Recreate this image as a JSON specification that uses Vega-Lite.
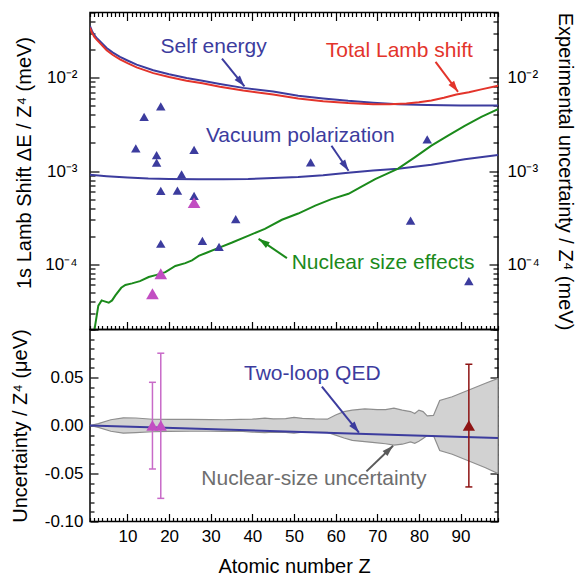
{
  "$schema": "https://vega.github.io/schema/vega-lite/v6.json",
  "padding": {"left": 9, "top": 2.5, "right": 2, "bottom": 2},
  "spacing": 0,
  "bounds": "flush",
  "config": {
    "view": {"stroke": "#000", "strokeWidth": 1.5},
    "font": "Liberation Sans",
    "axis": {
      "labelFont": "Liberation Sans", "labelFontSize": 17, "labelColor": "#000",
      "titleFont": "Liberation Sans", "titleFontSize": 20, "titleFontWeight": "normal", "titleColor": "#000",
      "tickColor": "#000", "tickWidth": 1.2, "grid": false, "domain": false, "labelOverlap": false
    },
    "text": {"font": "Liberation Sans", "fontSize": 21}
  },
  "datasets": {
    "selfEnergy": [
      {"Z": 1, "v": 0.0356}, {"Z": 1.5, "v": 0.0315}, {"Z": 2, "v": 0.0287}, {"Z": 2.6, "v": 0.0267},
      {"Z": 3.5, "v": 0.0243}, {"Z": 5, "v": 0.0208}, {"Z": 6.5, "v": 0.0186}, {"Z": 8.2, "v": 0.0167},
      {"Z": 10, "v": 0.0153}, {"Z": 12.2, "v": 0.0138}, {"Z": 16.2, "v": 0.012}, {"Z": 20, "v": 0.0109},
      {"Z": 24.2, "v": 0.00995}, {"Z": 28, "v": 0.0093}, {"Z": 32.2, "v": 0.00858}, {"Z": 37.8, "v": 0.00778},
      {"Z": 45, "v": 0.0071}, {"Z": 51, "v": 0.0064}, {"Z": 57, "v": 0.006}, {"Z": 63, "v": 0.00565},
      {"Z": 69, "v": 0.0054}, {"Z": 75, "v": 0.0052}, {"Z": 82, "v": 0.0051}, {"Z": 90, "v": 0.00505},
      {"Z": 99, "v": 0.00505}
    ],
    "totalLamb": [
      {"Z": 1, "v": 0.0345}, {"Z": 1.5, "v": 0.0302}, {"Z": 2, "v": 0.0276}, {"Z": 2.6, "v": 0.0256},
      {"Z": 3.5, "v": 0.0232}, {"Z": 5, "v": 0.0197}, {"Z": 6.5, "v": 0.0175}, {"Z": 8.2, "v": 0.0157},
      {"Z": 10, "v": 0.0143}, {"Z": 12.2, "v": 0.0129}, {"Z": 16.2, "v": 0.0112}, {"Z": 20, "v": 0.0102},
      {"Z": 24.2, "v": 0.0093}, {"Z": 28, "v": 0.0087}, {"Z": 32.2, "v": 0.008}, {"Z": 37.8, "v": 0.00728},
      {"Z": 45, "v": 0.0066}, {"Z": 51, "v": 0.006}, {"Z": 57, "v": 0.0056}, {"Z": 63, "v": 0.00535},
      {"Z": 69, "v": 0.0052}, {"Z": 73, "v": 0.0052}, {"Z": 77, "v": 0.00528}, {"Z": 80, "v": 0.00545},
      {"Z": 83, "v": 0.0057}, {"Z": 86, "v": 0.0061}, {"Z": 89, "v": 0.0066}, {"Z": 92, "v": 0.007},
      {"Z": 95, "v": 0.0075}, {"Z": 99, "v": 0.0082}
    ],
    "vacuumPol": [
      {"Z": 1, "v": 0.00091}, {"Z": 5, "v": 0.00088}, {"Z": 10, "v": 0.00085}, {"Z": 15, "v": 0.00083},
      {"Z": 20, "v": 0.00082}, {"Z": 27, "v": 0.000815}, {"Z": 33, "v": 0.000815}, {"Z": 39, "v": 0.00082},
      {"Z": 45, "v": 0.00084}, {"Z": 51, "v": 0.00086}, {"Z": 57, "v": 0.0009}, {"Z": 63, "v": 0.00096},
      {"Z": 69, "v": 0.00101}, {"Z": 75, "v": 0.00106}, {"Z": 83, "v": 0.00117}, {"Z": 91, "v": 0.00134},
      {"Z": 99, "v": 0.00148}
    ],
    "nuclearSize": [
      {"Z": 2, "v": 0.000019}, {"Z": 3, "v": 0.000036}, {"Z": 3.8, "v": 0.000041}, {"Z": 4.5, "v": 0.00004},
      {"Z": 5.5, "v": 0.0000387}, {"Z": 6.3, "v": 0.000041}, {"Z": 7.1, "v": 0.0000464}, {"Z": 8.5, "v": 0.000056},
      {"Z": 9.5, "v": 0.00006}, {"Z": 11.1, "v": 0.0000624}, {"Z": 13, "v": 0.000066}, {"Z": 15.1, "v": 0.000073},
      {"Z": 17, "v": 0.000077}, {"Z": 19.1, "v": 0.0000825}, {"Z": 21.5, "v": 0.000096}, {"Z": 23.9, "v": 0.000103},
      {"Z": 25.5, "v": 0.00011}, {"Z": 27.1, "v": 0.000123}, {"Z": 29, "v": 0.000133}, {"Z": 31.9, "v": 0.00015},
      {"Z": 35, "v": 0.00017}, {"Z": 39.1, "v": 0.000203}, {"Z": 43, "v": 0.00024}, {"Z": 47.1, "v": 0.0003},
      {"Z": 51, "v": 0.00035}, {"Z": 55.1, "v": 0.000426}, {"Z": 59, "v": 0.0005}, {"Z": 63.1, "v": 0.00057},
      {"Z": 66, "v": 0.00067}, {"Z": 69.5, "v": 0.00082}, {"Z": 72, "v": 0.00092}, {"Z": 75, "v": 0.00106},
      {"Z": 79, "v": 0.0014}, {"Z": 83, "v": 0.00187}, {"Z": 87, "v": 0.0024}, {"Z": 91, "v": 0.00305},
      {"Z": 95, "v": 0.0038}, {"Z": 99, "v": 0.0046}
    ],
    "experiment": [
      {"Z": 12, "v": 0.00175, "set": "A"}, {"Z": 14, "v": 0.00381, "set": "A"}, {"Z": 17, "v": 0.00148, "set": "A"},
      {"Z": 17, "v": 0.00123, "set": "A"}, {"Z": 18, "v": 0.00492, "set": "A"}, {"Z": 18, "v": 0.000611, "set": "A"},
      {"Z": 18, "v": 0.000166, "set": "A"}, {"Z": 22, "v": 0.000616, "set": "A"}, {"Z": 23, "v": 0.000922, "set": "A"},
      {"Z": 26, "v": 0.00168, "set": "A"}, {"Z": 26, "v": 0.000541, "set": "A"}, {"Z": 28, "v": 0.000178, "set": "A"},
      {"Z": 32, "v": 0.000154, "set": "A"}, {"Z": 36, "v": 0.000305, "set": "A"}, {"Z": 54, "v": 0.00124, "set": "A"},
      {"Z": 78, "v": 0.000294, "set": "A"}, {"Z": 82, "v": 0.00218, "set": "A"}, {"Z": 92, "v": 0.000066, "set": "A"},
      {"Z": 16, "v": 0.0000483, "set": "B"}, {"Z": 18, "v": 0.0000791, "set": "B"}, {"Z": 26, "v": 0.000458, "set": "B"}
    ],
    "labelsTop": [
      {"label": "Self energy", "Z": 30.7, "v": 0.0186},
      {"label": "Total Lamb shift", "Z": 75.3, "v": 0.0167},
      {"label": "Vacuum polarization", "Z": 51.5, "v": 0.002056},
      {"label": "Nuclear size effects", "Z": 71.4, "v": 0.0000895}
    ],
    "arrowsTop": [
      {"name": "se", "Z": 32.7, "v": 0.016, "Z2": 38.1, "v2": 0.00808},
      {"name": "total", "Z": 84.0, "v": 0.01475, "Z2": 89.4, "v2": 0.00705},
      {"name": "vp", "Z": 59.0, "v": 0.001867, "Z2": 63.1, "v2": 0.001007},
      {"name": "ns", "Z": 48.3, "v": 0.0001165, "Z2": 41.5, "v2": 0.0001875}
    ],
    "nuclearBand": [
      {"Z": 1, "lo": 0, "hi": 0}, {"Z": 3, "lo": -0.002, "hi": 0.002}, {"Z": 6, "lo": -0.006, "hi": 0.006},
      {"Z": 9, "lo": -0.008, "hi": 0.008}, {"Z": 12, "lo": -0.0075, "hi": 0.0078}, {"Z": 16, "lo": -0.0065, "hi": 0.0065},
      {"Z": 20, "lo": -0.0062, "hi": 0.0063}, {"Z": 25, "lo": -0.006, "hi": 0.0063}, {"Z": 30, "lo": -0.006, "hi": 0.0062},
      {"Z": 33, "lo": -0.0062, "hi": 0.006}, {"Z": 37, "lo": -0.006, "hi": 0.0064}, {"Z": 40, "lo": -0.0068, "hi": 0.0066},
      {"Z": 43, "lo": -0.0075, "hi": 0.0076}, {"Z": 45, "lo": -0.0068, "hi": 0.007}, {"Z": 48, "lo": -0.0072, "hi": 0.0072},
      {"Z": 50, "lo": -0.008, "hi": 0.0085}, {"Z": 52, "lo": -0.007, "hi": 0.0075}, {"Z": 55, "lo": -0.0072, "hi": 0.0068},
      {"Z": 58, "lo": -0.0072, "hi": 0.0066}, {"Z": 60, "lo": -0.01, "hi": 0.011}, {"Z": 62, "lo": -0.013, "hi": 0.0145},
      {"Z": 64, "lo": -0.0155, "hi": 0.016}, {"Z": 67, "lo": -0.0168, "hi": 0.0173}, {"Z": 70, "lo": -0.018, "hi": 0.0165},
      {"Z": 72, "lo": -0.019, "hi": 0.0165}, {"Z": 74, "lo": -0.0205, "hi": 0.018}, {"Z": 76, "lo": -0.0195, "hi": 0.016},
      {"Z": 78, "lo": -0.017, "hi": 0.0145}, {"Z": 79, "lo": -0.0185, "hi": 0.0125}, {"Z": 80, "lo": -0.0165, "hi": 0.016},
      {"Z": 81, "lo": -0.0135, "hi": 0.0145}, {"Z": 82, "lo": -0.0105, "hi": 0.01}, {"Z": 83.5, "lo": -0.0105, "hi": 0.0105},
      {"Z": 85, "lo": -0.026, "hi": 0.026}, {"Z": 88, "lo": -0.03, "hi": 0.03}, {"Z": 92, "lo": -0.037, "hi": 0.037},
      {"Z": 96, "lo": -0.044, "hi": 0.044}, {"Z": 99, "lo": -0.05, "hi": 0.049}
    ],
    "twoLoop": [
      {"Z": 1, "v": 0}, {"Z": 25, "v": -0.0032}, {"Z": 50, "v": -0.0065}, {"Z": 75, "v": -0.0098}, {"Z": 99, "v": -0.0131}
    ],
    "measured": [
      {"Z": 16, "v": 0, "lo": -0.0453, "hi": 0.045, "set": "B"},
      {"Z": 18, "v": 0, "lo": -0.0759, "hi": 0.0753, "set": "B"},
      {"Z": 92, "v": 0, "lo": -0.064, "hi": 0.0638, "set": "C"}
    ],
    "labelsBottom": [
      {"label": "Two-loop QED", "Z": 54.4, "v": 0.0475},
      {"label": "Nuclear-size uncertainty", "Z": 54.8, "v": -0.0616}
    ],
    "arrowsBottom": [
      {"name": "qed", "Z": 56.7, "v": 0.0405, "Z2": 65.6, "v2": -0.0073},
      {"name": "nsu", "Z": 67.4, "v": -0.0478, "Z2": 73.8, "v2": -0.0211}
    ]
  },
  "vconcat": [
    {
      "width": 408,
      "height": 317,
      "resolve": {"axis": {"x": "independent", "y": "independent"}, "scale": {"color": "independent", "size": "independent"}},
      "layer": [
        {
          "data": {"name": "selfEnergy"},
          "mark": {"type": "line", "color": "#3c3c9e", "strokeWidth": 2, "clip": true},
          "encoding": {
            "x": {"field": "Z", "type": "quantitative", "scale": {"domain": [1, 99], "nice": false, "zero": false},
              "axis": {"orient": "bottom", "title": null, "labels": false,
                "values": [1,2,3,4,5,6,7,8,9,10,11,12,13,14,15,16,17,18,19,20,21,22,23,24,25,26,27,28,29,30,31,32,33,34,35,36,37,38,39,40,41,42,43,44,45,46,47,48,49,50,51,52,53,54,55,56,57,58,59,60,61,62,63,64,65,66,67,68,69,70,71,72,73,74,75,76,77,78,79,80,81,82,83,84,85,86,87,88,89,90,91,92,93,94,95,96,97,98,99],
                "tickSize": {"condition": {"test": "datum.value % 10 === 0", "value": -8}, "value": -4}}},
            "y": {"field": "v", "type": "quantitative", "scale": {"type": "log", "domain": [0.00002, 0.05], "nice": false},
              "axis": {"orient": "left", "title": "1s Lamb Shift  ΔE / Z⁴ (meV)", "titlePadding": 10, "titleY": 150,
                "values": [0.00002,0.00003,0.00004,0.00005,0.00006,0.00007,0.00008,0.00009,0.0001,0.0002,0.0003,0.0004,0.0005,0.0006,0.0007,0.0008,0.0009,0.001,0.002,0.003,0.004,0.005,0.006,0.007,0.008,0.009,0.01,0.02,0.03,0.04,0.05],
                "labelExpr": "datum.value == 0.01 ? '10⁻²' : datum.value == 0.001 ? '10⁻³' : datum.value == 0.0001 ? '10⁻⁴' : ''",
                "labelPadding": 22,
                "tickSize": {"condition": {"test": "datum.value == 0.01 || datum.value == 0.001 || datum.value == 0.0001", "value": -9}, "value": -5}}}
          }
        },
        {
          "data": {"name": "totalLamb"},
          "mark": {"type": "line", "color": "#e3342b", "strokeWidth": 2, "clip": true},
          "encoding": {
            "x": {"field": "Z", "type": "quantitative", "scale": {"domain": [1, 99], "nice": false, "zero": false},
              "axis": {"orient": "top", "title": null, "labels": false,
                "values": [1,2,3,4,5,6,7,8,9,10,11,12,13,14,15,16,17,18,19,20,21,22,23,24,25,26,27,28,29,30,31,32,33,34,35,36,37,38,39,40,41,42,43,44,45,46,47,48,49,50,51,52,53,54,55,56,57,58,59,60,61,62,63,64,65,66,67,68,69,70,71,72,73,74,75,76,77,78,79,80,81,82,83,84,85,86,87,88,89,90,91,92,93,94,95,96,97,98,99],
                "tickSize": {"condition": {"test": "datum.value % 10 === 0", "value": -8}, "value": -4}}},
            "y": {"field": "v", "type": "quantitative", "scale": {"type": "log", "domain": [0.00002, 0.05], "nice": false},
              "axis": {"orient": "right", "title": "Experimental uncertainty / Z⁴ (meV)", "titlePadding": 15,
                "values": [0.00002,0.00003,0.00004,0.00005,0.00006,0.00007,0.00008,0.00009,0.0001,0.0002,0.0003,0.0004,0.0005,0.0006,0.0007,0.0008,0.0009,0.001,0.002,0.003,0.004,0.005,0.006,0.007,0.008,0.009,0.01,0.02,0.03,0.04,0.05],
                "labelExpr": "datum.value == 0.01 ? '10⁻²' : datum.value == 0.001 ? '10⁻³' : datum.value == 0.0001 ? '10⁻⁴' : ''",
                "labelPadding": 18,
                "tickSize": {"condition": {"test": "datum.value == 0.01 || datum.value == 0.001 || datum.value == 0.0001", "value": -9}, "value": -5}}}
          }
        },
        {
          "data": {"name": "vacuumPol"},
          "mark": {"type": "line", "color": "#3c3c9e", "strokeWidth": 2, "clip": true},
          "encoding": {
            "x": {"field": "Z", "type": "quantitative", "axis": null},
            "y": {"field": "v", "type": "quantitative", "axis": null}
          }
        },
        {
          "data": {"name": "nuclearSize"},
          "mark": {"type": "line", "color": "#1b8a1b", "strokeWidth": 2, "clip": true},
          "encoding": {
            "x": {"field": "Z", "type": "quantitative", "axis": null},
            "y": {"field": "v", "type": "quantitative", "axis": null}
          }
        },
        {
          "data": {"name": "experiment"},
          "mark": {"type": "point", "shape": "triangle-up", "filled": true, "opacity": 1},
          "encoding": {
            "x": {"field": "Z", "type": "quantitative", "axis": null},
            "y": {"field": "v", "type": "quantitative", "axis": null},
            "color": {"field": "set", "type": "nominal", "scale": {"domain": ["A", "B"], "range": ["#3c3c9e", "#c24ec2"]}, "legend": null},
            "size": {"field": "set", "type": "nominal", "scale": {"domain": ["A", "B"], "range": [90, 160]}, "legend": null}
          }
        },
        {
          "data": {"name": "labelsTop"},
          "mark": {"type": "text", "align": "center", "baseline": "alphabetic"},
          "encoding": {
            "x": {"field": "Z", "type": "quantitative", "axis": null},
            "y": {"field": "v", "type": "quantitative", "axis": null},
            "text": {"field": "label"},
            "color": {"field": "label", "type": "nominal", "scale": {"domain": ["Self energy", "Total Lamb shift", "Vacuum polarization", "Nuclear size effects"], "range": ["#3c3c9e", "#e3342b", "#3c3c9e", "#1b8a1b"]}, "legend": null}
          }
        },
        {
          "data": {"name": "arrowsTop"},
          "mark": {"type": "rule", "strokeWidth": 2},
          "encoding": {
            "x": {"field": "Z", "type": "quantitative", "axis": null},
            "y": {"field": "v", "type": "quantitative", "axis": null},
            "x2": {"field": "Z2"},
            "y2": {"field": "v2"},
            "color": {"field": "name", "type": "nominal", "scale": {"domain": ["se", "total", "vp", "ns"], "range": ["#3c3c9e", "#e3342b", "#3c3c9e", "#1b8a1b"]}, "legend": null}
          }
        },
        {
          "data": {"name": "arrowsTop"},
          "transform": [{"filter": "datum.name == 'se'"}],
          "mark": {"type": "point", "shape": "M0,0L-0.5,1.6L0.5,1.6Z", "size": 196, "angle": 140, "filled": true, "opacity": 1, "color": "#3c3c9e"},
          "encoding": {"x": {"field": "Z2", "type": "quantitative", "axis": null}, "y": {"field": "v2", "type": "quantitative", "axis": null}}
        },
        {
          "data": {"name": "arrowsTop"},
          "transform": [{"filter": "datum.name == 'total'"}],
          "mark": {"type": "point", "shape": "M0,0L-0.5,1.6L0.5,1.6Z", "size": 196, "angle": 143, "filled": true, "opacity": 1, "color": "#e3342b"},
          "encoding": {"x": {"field": "Z2", "type": "quantitative", "axis": null}, "y": {"field": "v2", "type": "quantitative", "axis": null}}
        },
        {
          "data": {"name": "arrowsTop"},
          "transform": [{"filter": "datum.name == 'vp'"}],
          "mark": {"type": "point", "shape": "M0,0L-0.5,1.6L0.5,1.6Z", "size": 196, "angle": 146, "filled": true, "opacity": 1, "color": "#3c3c9e"},
          "encoding": {"x": {"field": "Z2", "type": "quantitative", "axis": null}, "y": {"field": "v2", "type": "quantitative", "axis": null}}
        },
        {
          "data": {"name": "arrowsTop"},
          "transform": [{"filter": "datum.name == 'ns'"}],
          "mark": {"type": "point", "shape": "M0,0L-0.5,1.6L0.5,1.6Z", "size": 196, "angle": 304, "filled": true, "opacity": 1, "color": "#1b8a1b"},
          "encoding": {"x": {"field": "Z2", "type": "quantitative", "axis": null}, "y": {"field": "v2", "type": "quantitative", "axis": null}}
        }
      ]
    },
    {
      "width": 408,
      "height": 192,
      "resolve": {"axis": {"x": "independent", "y": "independent"}, "scale": {"color": "independent"}},
      "layer": [
        {
          "data": {"name": "nuclearBand"},
          "mark": {"type": "area", "color": "#d2d2d2", "stroke": "#8e8e8e", "strokeWidth": 1.2, "opacity": 1},
          "encoding": {
            "x": {"field": "Z", "type": "quantitative", "scale": {"domain": [1, 99], "nice": false, "zero": false},
              "axis": {"orient": "bottom", "title": "Atomic number Z", "titlePadding": 8,
                "values": [1,2,3,4,5,6,7,8,9,10,11,12,13,14,15,16,17,18,19,20,21,22,23,24,25,26,27,28,29,30,31,32,33,34,35,36,37,38,39,40,41,42,43,44,45,46,47,48,49,50,51,52,53,54,55,56,57,58,59,60,61,62,63,64,65,66,67,68,69,70,71,72,73,74,75,76,77,78,79,80,81,82,83,84,85,86,87,88,89,90,91,92,93,94,95,96,97,98,99],
                "labelExpr": "datum.value % 10 === 0 ? datum.label : ''",
                "labelPadding": 15,
                "tickSize": {"condition": {"test": "datum.value % 10 === 0", "value": -8}, "value": -4}}},
            "y": {"field": "lo", "type": "quantitative", "scale": {"domain": [-0.1, 0.1], "nice": false, "zero": false},
              "axis": {"orient": "left", "title": "Uncertainty / Z⁴ (μeV)", "titlePadding": 14,
                "values": [-0.1,-0.09,-0.08,-0.07,-0.06,-0.05,-0.04,-0.03,-0.02,-0.01,0,0.01,0.02,0.03,0.04,0.05,0.06,0.07,0.08,0.09,0.1],
                "labelExpr": "abs(datum.value * 20 - round(datum.value * 20)) < 0.000001 && datum.value < 0.095 ? (datum.value < -0.000001 ? '-' : '') + format(abs(datum.value), '.2f') : ''",
                "labelPadding": 15,
                "tickSize": {"condition": {"test": "abs(datum.value * 20 - round(datum.value * 20)) < 0.000001", "value": -8}, "value": -4}}},
            "y2": {"field": "hi"}
          }
        },
        {
          "data": {"name": "twoLoop"},
          "mark": {"type": "line", "color": "#3c3c9e", "strokeWidth": 2},
          "encoding": {
            "x": {"field": "Z", "type": "quantitative", "axis": null},
            "y": {"field": "v", "type": "quantitative",
              "axis": {"orient": "right", "title": null, "labels": false,
                "values": [-0.1,-0.09,-0.08,-0.07,-0.06,-0.05,-0.04,-0.03,-0.02,-0.01,0,0.01,0.02,0.03,0.04,0.05,0.06,0.07,0.08,0.09,0.1],
                "tickSize": {"condition": {"test": "abs(datum.value * 20 - round(datum.value * 20)) < 0.000001", "value": -8}, "value": -4}}}
          }
        },
        {
          "data": {"name": "measured"},
          "mark": {"type": "rule", "strokeWidth": 1.5},
          "encoding": {
            "x": {"field": "Z", "type": "quantitative", "axis": null},
            "y": {"field": "lo", "type": "quantitative", "axis": null},
            "y2": {"field": "hi"},
            "color": {"field": "set", "type": "nominal", "scale": {"domain": ["B", "C"], "range": ["#c86ac8", "#8e1414"]}, "legend": null}
          }
        },
        {
          "data": {"name": "measured"},
          "mark": {"type": "point", "shape": "stroke", "size": 49, "strokeWidth": 1.5, "filled": false, "opacity": 1},
          "encoding": {
            "x": {"field": "Z", "type": "quantitative", "axis": null},
            "y": {"field": "lo", "type": "quantitative", "axis": null},
            "color": {"field": "set", "type": "nominal", "scale": {"domain": ["B", "C"], "range": ["#c86ac8", "#8e1414"]}, "legend": null}
          }
        },
        {
          "data": {"name": "measured"},
          "mark": {"type": "point", "shape": "stroke", "size": 49, "strokeWidth": 1.5, "filled": false, "opacity": 1},
          "encoding": {
            "x": {"field": "Z", "type": "quantitative", "axis": null},
            "y": {"field": "hi", "type": "quantitative", "axis": null},
            "color": {"field": "set", "type": "nominal", "scale": {"domain": ["B", "C"], "range": ["#c86ac8", "#8e1414"]}, "legend": null}
          }
        },
        {
          "data": {"name": "measured"},
          "mark": {"type": "point", "shape": "triangle-up", "size": 150, "filled": true, "opacity": 1},
          "encoding": {
            "x": {"field": "Z", "type": "quantitative", "axis": null},
            "y": {"field": "v", "type": "quantitative", "axis": null},
            "color": {"field": "set", "type": "nominal", "scale": {"domain": ["B", "C"], "range": ["#c24ec2", "#8e1414"]}, "legend": null}
          }
        },
        {
          "data": {"name": "labelsBottom"},
          "mark": {"type": "text", "align": "center", "baseline": "alphabetic"},
          "encoding": {
            "x": {"field": "Z", "type": "quantitative", "axis": null},
            "y": {"field": "v", "type": "quantitative", "axis": null},
            "text": {"field": "label"},
            "color": {"field": "label", "type": "nominal", "scale": {"domain": ["Two-loop QED", "Nuclear-size uncertainty"], "range": ["#3c3c9e", "#6e6e6e"]}, "legend": null}
          }
        },
        {
          "data": {"name": "arrowsBottom"},
          "mark": {"type": "rule", "strokeWidth": 2},
          "encoding": {
            "x": {"field": "Z", "type": "quantitative", "axis": null},
            "y": {"field": "v", "type": "quantitative", "axis": null},
            "x2": {"field": "Z2"},
            "y2": {"field": "v2"},
            "color": {"field": "name", "type": "nominal", "scale": {"domain": ["qed", "nsu"], "range": ["#3c3c9e", "#5a5a5a"]}, "legend": null}
          }
        },
        {
          "data": {"name": "arrowsBottom"},
          "transform": [{"filter": "datum.name == 'qed'"}],
          "mark": {"type": "point", "shape": "M0,0L-0.5,1.6L0.5,1.6Z", "size": 196, "angle": 141, "filled": true, "opacity": 1, "color": "#3c3c9e"},
          "encoding": {"x": {"field": "Z2", "type": "quantitative", "axis": null}, "y": {"field": "v2", "type": "quantitative", "axis": null}}
        },
        {
          "data": {"name": "arrowsBottom"},
          "transform": [{"filter": "datum.name == 'nsu'"}],
          "mark": {"type": "point", "shape": "M0,0L-0.5,1.6L0.5,1.6Z", "size": 196, "angle": 46, "filled": true, "opacity": 1, "color": "#5a5a5a"},
          "encoding": {"x": {"field": "Z2", "type": "quantitative", "axis": null}, "y": {"field": "v2", "type": "quantitative", "axis": null}}
        }
      ]
    }
  ]
}
